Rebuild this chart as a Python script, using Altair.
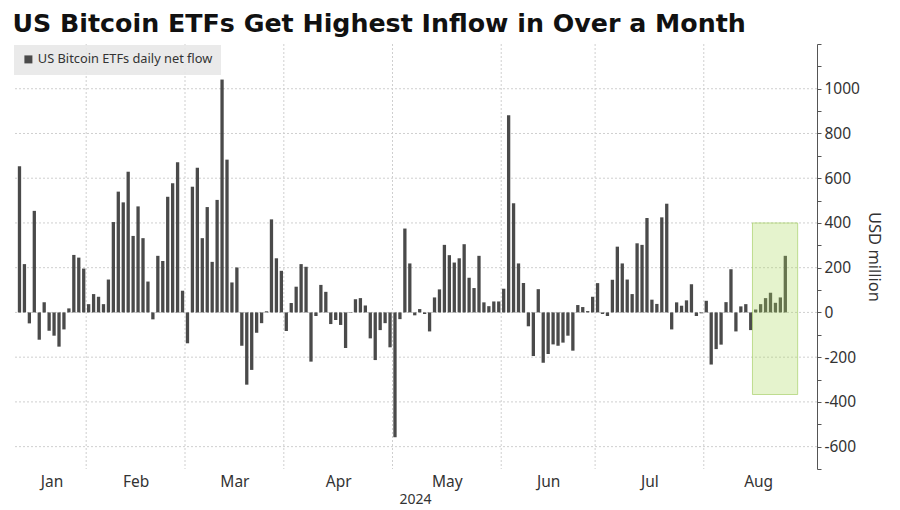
import altair as alt
import pandas as pd

# ---------------- data ----------------
# Daily net flow (USD million), one value per trading day, Jan 11 - Aug 23, 2024
flows_jan = [654, 216, -49, 454, -122, 46, -82, -104, -153, -76, 18, 257, 245, 196]
flows_feb = [37, 82, 70, 37, 147, 404, 540, 492, 629, 342, 474, 332, 138, -31, 253, 230,
             517, 577, 671, 97]
flows_mar = [-138, 562, 647, 332, 471, 226, 503, 1041, 683, 134, 201, -149, -323, -257,
             -91, -48, 5, 416, 242, 186]
flows_apr = [-83, 42, 115, 216, 204, -220, -16, 123, 92, -52, -34, -56, -159, -2, 59, 64,
             31, -116, -213, -79, -48, -156]
flows_may = [-558, -30, 375, 219, -13, 15, -7, -85, 67, 103, 302, 256, 223, 242, 305, 155,
             109, 253, 45, 28, 49, 49]
flows_jun = [106, 882, 488, 219, 131, -62, -195, 104, -225, -186, -143, -149, -135, -104,
             -171, 33, 24, 6, 70]
flows_jul = [131, -7, -16, 146, 294, 219, 147, 82, 309, 302, 422, 57, 38, 425, 486, -76,
             45, 30, 54, 126, -16, -4]
flows_aug = [52, -233, -164, -144, 46, 193, -85, 27, 37, -79, 13, 37, 64, 88, 43, 67, 253]

months = ["Jan", "Feb", "Mar", "Apr", "May", "Jun", "Jul", "Aug"]
# trading days per calendar month on the axis (Aug shown as the full month)
month_trading_days = [14, 20, 20, 22, 22, 19, 22, 22]
year_label = "2024"

series_name = "US Bitcoin ETFs daily net flow"

# highlighted window (trading-day index span, USD million span)
highlight_idx = [148.35, 157.5]
highlight_val = [400, -367]

y_domain = [-700, 1200]
x_domain = [-0.3, 160.4]

# ---------------- tables ----------------
flows = (flows_jan + flows_feb + flows_mar + flows_apr + flows_may + flows_jun
         + flows_jul + flows_aug)
bars = pd.DataFrame({"idx": list(range(len(flows))), "flow": flows,
                     "series": [series_name] * len(flows)})

starts = []
s = 0
for d in month_trading_days:
    starts.append(s)
    s += d
centers = [st + (d - 1) / 2 for st, d in zip(starts, month_trading_days)]
boundaries = pd.DataFrame({"idx": [st - 0.5 for st in starts[1:]]})
hgrid = pd.DataFrame({"flow": list(range(-600, 1001, 200))})
box = pd.DataFrame({"idx": [highlight_idx[0]], "idx2": [highlight_idx[1]],
                    "flow": [highlight_val[0]], "flow2": [highlight_val[1]]})

FONT = "Noto Sans"
TXT = "#333333"

label_expr = ("[" + ",".join("'%s'" % m for m in months) + "][indexof(["
              + ",".join(repr(c) for c in centers) + "], datum.value)]")

xscale = alt.Scale(domain=x_domain, nice=False, zero=False)
yscale = alt.Scale(domain=y_domain, nice=False, zero=False)

xaxis = alt.Axis(values=centers, labelExpr=label_expr, title=year_label,
                 ticks=False, domain=False, grid=False,
                 labelFontSize=15.5, labelPadding=5, labelColor=TXT,
                 labelFont=FONT, titleFont=FONT, titleFontSize=14,
                 titleFontWeight="normal", titleColor=TXT, titlePadding=3)
yaxis = alt.Axis(orient="right", values=list(range(-700, 1201, 100)),
                 labelExpr="(datum.value % 200 == 0 && datum.value <= 1000) ? ('' + datum.value) : ''",
                 grid=False, tickSize=4, tickColor="#555555",
                 domainColor="#555555", labelFontSize=15.5, labelColor=TXT,
                 labelFont=FONT, labelPadding=3, title="USD million",
                 titleFont=FONT, titleFontSize=16.5, titleFontWeight="normal",
                 titleColor=TXT, titlePadding=6)

grid_style = dict(color="#cfcfcf", strokeWidth=1, strokeDash=[2, 2])

vgrid = alt.Chart(boundaries).mark_rule(**grid_style).encode(
    x=alt.X("idx:Q", scale=xscale, axis=xaxis))
hg = alt.Chart(hgrid).mark_rule(**grid_style).encode(
    y=alt.Y("flow:Q", scale=yscale, axis=yaxis))

bar_layer = alt.Chart(bars).mark_bar(size=3.3).encode(
    x=alt.X("idx:Q", scale=xscale, axis=xaxis),
    y=alt.Y("flow:Q", scale=yscale, axis=yaxis),
    color=alt.Color("series:N", scale=alt.Scale(range=["#4a4a4a"]),
                    legend=alt.Legend(title=None, orient="top-left", offset=1,
                                      fillColor="rgba(232,232,232,0.9)", padding=8,
                                      symbolType="square", symbolSize=64,
                                      symbolStrokeWidth=0, labelFontSize=12.8,
                                      labelFont=FONT, labelColor=TXT, labelOffset=3,
                                      labelLimit=400)),
)

box_layer = alt.Chart(box).mark_rect(fill="#a8d65a", fillOpacity=0.3,
                                     stroke="#a8d06a", strokeOpacity=0.7,
                                     strokeWidth=1).encode(
    x=alt.X("idx:Q", scale=xscale, axis=xaxis), x2="idx2:Q",
    y=alt.Y("flow:Q", scale=yscale, axis=yaxis), y2="flow2:Q")

chart = alt.layer(vgrid, hg, bar_layer, box_layer).properties(
    width=804, height=425,
    padding={"left": 4, "top": 4, "right": 6, "bottom": 0},
    title=alt.Title("US Bitcoin ETFs Get Highest Inflow in Over a Month",
                    anchor="start", font="DejaVu Sans", fontSize=25.3,
                    fontWeight="bold", color="#111111", offset=6),
).configure_view(stroke=None)

chart.save("out.html", embed_options={"renderer": "svg", "actions": False})
